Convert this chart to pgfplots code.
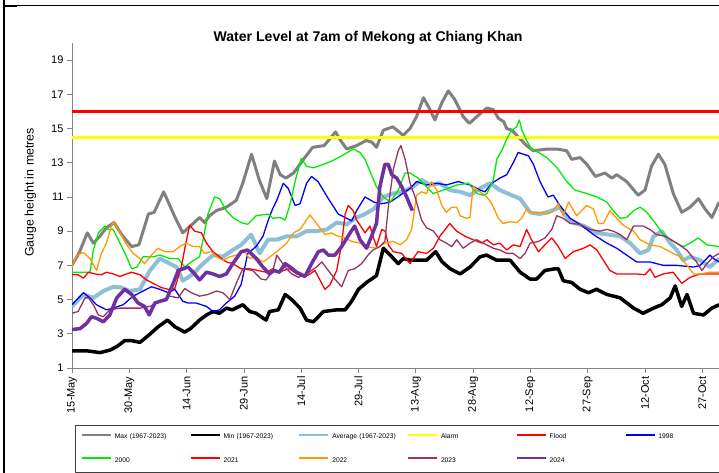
\documentclass[border=0pt]{standalone}
\usepackage{fontspec}
\setmainfont{Liberation Sans}
\usepackage{pgfplots}
\pgfplotsset{compat=1.18}

\definecolor{maxc}{RGB}{128,128,128}
\definecolor{minc}{RGB}{0,0,0}
\definecolor{avgc}{RGB}{141,191,214}
\definecolor{alarmc}{RGB}{255,255,0}
\definecolor{floodc}{RGB}{255,0,0}
\definecolor{c1998}{RGB}{0,0,255}
\definecolor{c2000}{RGB}{0,235,0}
\definecolor{c2021}{RGB}{255,0,0}
\definecolor{c2022}{RGB}{255,153,0}
\definecolor{c2023}{RGB}{153,51,102}
\definecolor{c2024}{RGB}{112,48,160}
\definecolor{axisgray}{RGB}{134,134,134}

\begin{document}
\begin{tikzpicture}
\useasboundingbox (0,0) rectangle (719pt,473pt);
% outer frame pieces
\draw[line width=2pt] (4pt,0pt) -- (4pt,473pt);
\draw[line width=1pt] (4pt,467pt) -- (719pt,467pt);
\draw[line width=2.2pt] (4pt,467pt) -- (17pt,467pt);

\node[font=\fontsize{14.1}{16}\selectfont\bfseries] at (368pt,435pt) {Water Level at 7am of Mekong at Chiang Khan};
\node[rotate=90, font=\fontsize{12.4}{14}\selectfont] at (30.5pt,280.5pt) {Gauge height in metres};

\begin{axis}[
    at={(72pt,105pt)}, anchor=south west,
    scale only axis, width=647.5pt, height=325pt,
    xmin=0, xmax=169.5, ymin=1, ymax=20,
    axis x line*=bottom, axis y line*=left,
    axis line style={draw=axisgray, line width=0.8pt, -},
    tick align=outside, major tick length=5pt,
    tick style={draw=axisgray, line width=0.8pt},
    ytick={1,3,...,19},
    xtick={0,15,...,165},
    xticklabels={15-May,30-May,14-Jun,29-Jun,14-Jul,29-Jul,13-Aug,28-Aug,12-Sep,27-Sep,12-Oct,27-Oct},
    tick label style={font=\fontsize{11}{13}\selectfont},
    xticklabel style={rotate=90, anchor=east},
    /pgf/number format/assume math mode=true,
    line join=round,
    legend columns=6,
    legend cell align=left,
    legend image code/.code={\draw[#1, line width=1.8pt] (0pt,2.2pt) -- (29pt,2.2pt);},
    legend style={at={(0.00417,-0.1745)}, anchor=north west,
        draw=black!75, line width=0.8pt, inner xsep=6pt, inner ysep=8.6pt,
        font=\fontsize{6.7}{8}\selectfont, row sep=16.8pt,
        nodes={text width=64pt, inner xsep=0pt, inner ysep=0pt, text height=5pt, text depth=1.5pt},
        /tikz/every odd column/.append style={column sep=3pt},
        /tikz/every even column/.append style={column sep=10.9pt}},
]
% Max (1967-2023)
\addplot[maxc, line width=3pt] coordinates {
(0,7.0) (2,7.8) (4,8.9) (5.6,8.3) (7.3,8.7) (9,9.2) (11,9.5) (13,8.8) (15.6,8.1) (17.5,8.2) (20,10.0) (21.5,10.1) (24,11.3) (27,9.8) (29,8.9) (31,9.3) (33.4,9.8) (34.7,9.5) (36,9.9) (37.8,10.2) (40.4,10.4) (43,10.8) (44.7,11.8) (47,13.5) (49,12.0) (51,10.9) (53,13.1) (54.5,12.3) (56,12.1) (58,12.4) (60.6,13.2) (63,13.9) (66,14.0) (69,14.8) (70,14.4) (71.9,13.8) (74.5,14.0) (77,14.3) (78.5,14.2) (79.7,13.9) (81.5,14.9) (84,15.1) (86.7,14.6) (88.5,15.0) (90.2,15.7) (92,16.8) (93.5,16.2) (95,15.5) (96.8,16.5) (98.5,17.2) (100.2,16.7) (102.4,15.7) (104,15.3) (106,15.7) (108.6,16.2) (110.3,16.1) (111.6,15.6) (113,15.4) (113.8,15.0) (115.1,14.9) (117.3,14.4) (119,14.0) (120.8,13.7) (124.3,13.8) (127,13.8) (129.5,13.7) (130.8,13.2) (133,13.3) (134.8,12.9) (137,12.2) (139.5,12.4) (141.3,12.1) (142.6,12.3) (145.2,11.9) (148.2,11.1) (150,11.4) (151.7,12.8) (153.5,13.5) (155.2,12.9) (157.4,11.2) (159.6,10.1) (161.8,10.4) (164,10.9) (165.7,10.3) (167.5,9.8) (169.4,10.7)
};
% Min (1967-2023)
\addplot[minc, line width=3.5pt] coordinates {
(0,2.0) (4,2.0) (7.3,1.9) (10,2.05) (11.7,2.25) (13.8,2.6) (15.6,2.6) (17.8,2.5) (20,2.9) (22.5,3.4) (25,3.8) (27,3.4) (29.5,3.1) (31,3.3) (33.4,3.8) (35.2,4.1) (36.9,4.3) (38.6,4.2) (40.4,4.5) (42,4.4) (44.7,4.7) (46.5,4.3) (48.2,4.2) (50.8,3.8) (51.7,4.3) (54,4.4) (55.8,5.3) (57.5,5.0) (59.7,4.5) (61.4,3.8) (63.2,3.7) (65.8,4.3) (69.3,4.4) (71.5,4.4) (73.2,4.9) (75,5.6) (77.1,6.0) (79.7,6.4) (81.5,8.0) (83.3,7.6) (85.4,7.1) (86.7,7.4) (88.5,7.3) (90.6,7.3) (92.8,7.3) (95.2,7.8) (96.9,7.2) (99,6.8) (101.6,6.5) (104.2,6.9) (106.8,7.5) (108.5,7.6) (111.2,7.3) (114.7,7.3) (117.3,6.6) (119.9,6.2) (121.6,6.2) (123.8,6.7) (126.4,6.8) (127.3,6.8) (128.6,6.1) (130.8,6.0) (133,5.6) (135.2,5.4) (137.3,5.6) (140,5.3) (143.5,5.1) (147,4.5) (149.5,4.2) (152.2,4.5) (154.4,4.7) (156.6,5.1) (157.9,5.8) (159.6,4.6) (161,5.3) (162.7,4.2) (165.3,4.1) (167.5,4.5) (169.4,4.7)
};
% Average (1967-2023)
\addplot[avgc, line width=4pt] coordinates {
(0,4.6) (3,5.3) (5.6,5.1) (8.2,5.5) (10.8,5.75) (13,5.7) (15.1,5.5) (17.8,5.6) (20.4,6.7) (23,7.4) (25.6,7.1) (27.4,6.9) (29,6.1) (31.7,6.5) (34.3,7.1) (36.9,7.6) (39.5,7.5) (42.1,7.9) (44.3,8.2) (46.9,8.8) (49.1,7.7) (51.3,8.5) (53.6,8.5) (56.2,8.7) (58.8,8.7) (61.4,9.0) (64,9.0) (66.7,9.1) (69.3,9.5) (71.9,9.4) (74.5,9.8) (76.7,10.0) (79,10.3) (81.5,11.0) (84.1,11.2) (86.7,11.3) (89.3,11.6) (91.5,12.0) (93.7,11.7) (96.3,11.8) (98.9,11.4) (101.6,11.3) (104.2,11.1) (106.8,11.5) (109.4,11.8) (112,11.4) (115.1,11.1) (117.3,10.9) (119.9,10.1) (122.5,10.0) (125.6,10.2) (127.7,10.4) (130.4,9.55) (134,9.3) (137.4,8.9) (140.4,8.8) (143.5,8.7) (146.1,8.3) (148.7,7.7) (150.9,7.9) (152.2,8.7) (154.4,9.0) (156.6,8.3) (158.3,7.9) (160,7.3) (161.8,7.5) (164.4,7.3) (167,6.9) (169.4,7.4)
};
% Alarm
\addplot[alarmc, line width=3pt] coordinates {(0,14.5) (169.5,14.5)};
% Flood
\addplot[floodc, line width=3pt] coordinates {(0,16) (169.5,16)};
% 1998
\addplot[c1998, line width=1.3pt] coordinates {
(0,4.7) (3,5.4) (4.7,5.1) (6.4,4.7) (9,4.4) (10.8,4.5) (13.4,4.7) (16,5.2) (18.6,5.5) (20.8,5.75) (23,5.6) (25.2,5.4) (26.9,5.6) (29,4.9) (30.4,4.8) (32.5,4.8) (35.2,4.6) (36.9,4.3) (38.6,4.4) (40.4,4.8) (42.6,5.2) (44.3,5.9) (46,7.7) (48.2,8.1) (50,8.7) (51.3,9.6) (52.5,10.3) (53.6,10.8) (55.3,11.8) (56.6,11.5) (58.4,10.5) (59.7,10.6) (61.4,11.8) (62.7,12.2) (64.4,11.9) (67.1,10.9) (69.7,10.0) (71.5,9.8) (73.2,9.6) (74.5,10.2) (76.7,11.0) (79,10.7) (81,10.6) (83.3,10.7) (85.9,11.1) (88.5,11.5) (90.2,11.9) (92.8,11.7) (95.5,11.8) (98,11.7) (101.1,11.9) (104.2,11.7) (106.8,11.4) (108.1,11.3) (109.9,11.8) (112,12.1) (113.8,12.3) (115.5,13.0) (116.8,13.6) (118.1,13.5) (119.5,13.4) (120.8,12.9) (122.5,11.9) (124.6,11.0) (126,11.1) (127.7,10.5) (130.4,9.75) (133,9.4) (136.5,8.8) (140,8.3) (142.6,8.0) (145.2,7.6) (147.8,7.2) (151.3,7.2) (154.8,7.0) (158.3,7.0) (162.7,6.9) (164.4,7.0) (167,7.6) (167.9,7.4) (169.4,7.2)
};
% 2000
\addplot[c2000, line width=1.3pt] coordinates {
(0,6.6) (2.1,6.6) (4.7,6.6) (5.6,7.9) (6.9,8.9) (8.6,9.3) (9.5,9.1) (10.8,9.1) (13,8.1) (14.3,7.5) (15.6,6.8) (17,6.9) (18.6,7.5) (21.2,7.5) (23,7.6) (25.6,7.4) (27.8,7.4) (29.5,6.9) (31.2,7.2) (33.4,7.5) (34.3,8.5) (35.6,10.0) (37.3,11.0) (38.6,10.9) (40.4,10.2) (42.1,9.8) (44.3,9.5) (46,9.4) (48.2,9.9) (51.3,10.0) (52.6,9.75) (54.4,9.8) (55.8,9.65) (57,10.5) (58.5,12.0) (60,13.25) (61.4,12.8) (63.2,12.7) (65.8,12.9) (68,13.1) (70.6,13.4) (73.6,13.8) (75.4,13.6) (76.7,13.2) (78,12.5) (79.7,11.6) (81.5,11.0) (83.3,10.7) (85.4,11.4) (87.2,12.4) (88.5,12.4) (90.6,12.1) (92.8,11.6) (94.5,11.2) (97.2,11.4) (100.7,11.7) (103.8,11.8) (106,11.2) (107.7,11.1) (108.6,11.2) (110.3,12.0) (111.2,13.2) (112.5,13.7) (113.8,14.4) (115.1,14.9) (116.4,15.1) (117.1,15.5) (117.8,14.9) (119,14.3) (120.3,13.8) (122.1,13.6) (124.3,13.3) (127,12.7) (129.5,11.9) (131.7,11.4) (134.7,11.2) (137.4,11.0) (140,10.7) (141.3,10.3) (143.5,9.75) (145.2,9.8) (147,10.2) (148.7,10.4) (150.5,10.1) (152.6,9.5) (154.8,8.8) (157.4,8.4) (160,8.1) (161.8,8.3) (163.9,8.6) (166.2,8.2) (169.4,8.1)
};
% 2021
\addplot[c2021, line width=1.3pt] coordinates {
(0,6.45) (1.6,6.45) (3,6.25) (4.3,6.6) (6,6.5) (7.7,6.45) (9,6.6) (10.8,6.5) (12.5,6.35) (14.3,6.5) (15.6,6.6) (17.8,6.45) (19.5,6.15) (21.2,5.95) (23.4,5.7) (25.2,5.6) (26.9,5.65) (28.6,6.9) (29.8,8.3) (30.8,9.35) (32.1,9.0) (33.9,8.9) (35.2,8.3) (36.9,7.8) (38.6,7.5) (40.4,7.2) (42.1,7.1) (44.3,6.8) (46.5,6.8) (48.7,6.7) (50.8,6.6) (52.6,6.8) (54.4,6.6) (55.3,6.7) (57,6.8) (58.8,6.5) (60.6,6.35) (62,6.45) (63.6,6.7) (64.9,6.15) (66.2,5.6) (67.5,5.85) (69.3,6.7) (70.6,8.3) (71.5,10.0) (72.3,10.5) (73.6,10.2) (74.5,9.65) (75.4,9.35) (76.7,8.9) (78,9.3) (78.8,8.7) (79.7,8.1) (81.1,9.1) (82,9.0) (82.8,8.2) (84.1,7.8) (86.3,7.7) (88.5,7.1) (89.3,7.4) (90.6,7.8) (92.8,7.7) (94.6,8.0) (96.3,8.7) (98.9,9.45) (100.7,9.0) (102.9,8.7) (105,8.5) (107.3,8.3) (108.6,8.5) (110.3,8.2) (112,8.3) (113.8,7.9) (115.5,8.2) (117.3,8.1) (119,9.1) (120.3,8.5) (122.1,7.8) (123.8,8.2) (125.6,8.6) (127.3,8.1) (129.1,7.4) (131.2,7.8) (133.9,8.0) (135.6,8.2) (137.4,7.9) (139.1,7.3) (140.8,6.7) (142.6,6.5) (145.2,6.5) (147.8,6.5) (150,6.45) (151.3,6.8) (152.6,6.3) (154.8,6.5) (157.4,6.6) (159.6,5.95) (161.8,6.3) (164.4,6.5) (169.4,6.5)
};
% 2022
\addplot[c2022, line width=1.3pt] coordinates {
(0,6.9) (1.2,7.6) (3,7.75) (4.7,7.4) (6.4,6.7) (7.7,7.7) (9,8.3) (10.4,9.35) (10.8,9.55) (12.1,9.1) (14.3,8.2) (16,7.7) (17.8,7.4) (19,7.1) (20.8,7.6) (22.5,8.0) (24.3,7.8) (26.5,7.8) (28.2,8.1) (29.9,8.3) (31.7,8.1) (33.4,8.1) (34.7,7.7) (36.5,7.8) (37.8,7.5) (39.5,7.3) (41.3,7.5) (43,7.6) (45.2,7.8) (46.5,7.4) (48.2,7.5) (50,7.2) (51.8,7.5) (53.6,7.8) (56.2,8.3) (58,8.9) (59.7,9.1) (62.3,9.95) (64,9.45) (66.2,8.8) (67.9,8.9) (69.7,8.7) (71.5,8.6) (73.2,8.4) (75.4,8.3) (77.1,8.1) (79.7,8.0) (81.9,8.3) (84.1,8.4) (85.9,8.2) (87.6,8.5) (88.9,9.1) (90.2,11.1) (91.5,11.3) (92.8,11.2) (94.1,11.9) (95.5,11.4) (96.8,10.5) (98,10.1) (99.4,10.4) (100.7,10.4) (101.6,9.9) (103.3,9.75) (104.2,9.8) (105,11.6) (106.8,11.3) (108.6,11.0) (109.9,10.6) (111.6,9.75) (112.9,9.45) (114.7,9.55) (116.4,9.5) (117.7,9.75) (119,10.3) (120.8,10.0) (122.1,10.1) (124.3,10.0) (125.6,10.1) (127.3,10.6) (128.6,9.9) (130,10.7) (132.1,9.9) (134.7,10.5) (136.5,10.3) (137.8,9.45) (139.1,9.45) (140.8,10.2) (142.6,9.75) (144.3,9.35) (147,9.0) (148.7,8.5) (151.3,8.2) (153.9,8.1) (156.5,7.8) (159.2,7.5) (161,7.0) (162.7,6.5) (164.4,6.5) (167,6.6) (169.4,6.6)
};
% 2023
\addplot[c2023, line width=1.3pt] coordinates {
(0,4.2) (1.6,4.3) (3.4,5.1) (4.3,5.1) (5.6,4.7) (6.9,4.1) (8.2,4.0) (9.9,4.4) (12.5,4.5) (15.1,4.5) (17.8,4.5) (20.4,4.6) (23,4.9) (25.6,5.2) (27.8,5.1) (29.5,5.65) (31.2,5.4) (33.4,5.2) (35.6,5.3) (37.8,5.5) (39.5,5.4) (41.3,5.0) (43,5.95) (44.7,6.8) (47.3,6.7) (49.5,6.2) (50.8,6.15) (52.6,6.7) (53.6,7.6) (55.8,6.9) (57.5,6.5) (59.3,6.3) (61.4,6.5) (64,6.9) (65.4,7.2) (67.1,6.7) (68.8,6.2) (70.6,5.75) (72.3,6.7) (74,6.8) (75.8,7.1) (77.5,7.6) (78.8,7.9) (80.6,8.1) (81.9,8.4) (82.8,10.4) (84.1,12.6) (85.4,13.7) (86.1,14.0) (87.2,13.2) (88.5,11.8) (89.8,11.0) (91.5,9.65) (92.8,9.2) (94.6,9.0) (96.3,8.5) (98,8.3) (99.4,8.1) (100.7,8.5) (102.4,8.0) (104.2,8.3) (105.9,8.5) (107.7,8.3) (108.5,8.2) (110.3,8.0) (112,7.9) (113.8,7.7) (115.5,7.7) (117.3,7.4) (118.6,7.7) (119.9,8.3) (122.1,8.4) (123.8,8.6) (125.6,9.1) (126.9,9.9) (128.6,9.75) (130.4,9.45) (133,9.4) (135.6,9.1) (138.2,9.0) (140,9.1) (141.7,9.0) (143.5,8.8) (145.2,8.5) (147,9.3) (149.5,9.3) (151.3,9.1) (153,8.8) (155.3,8.7) (158.3,8.3) (160.9,7.9) (163.5,7.2) (164.9,6.7) (166.2,7.1) (167.9,7.5) (169.4,7.7)
};
% 2024
\addplot[c2024, line width=3.5pt] coordinates {
(0,3.25) (2.1,3.3) (3.8,3.6) (5.1,4.0) (6.5,3.9) (8.2,3.7) (9.9,4.1) (11.7,5.1) (13.8,5.6) (15.6,5.3) (17.3,4.8) (19,4.6) (20.2,4.1) (21.7,4.8) (23,4.9) (24.7,5.0) (26.5,5.95) (27.8,6.7) (30.4,6.9) (32.1,6.5) (33.4,6.15) (35.2,6.6) (36.9,6.5) (38.6,6.35) (40.4,6.5) (42.1,7.1) (44.3,7.8) (46,7.9) (48.2,7.4) (50,6.9) (51.7,6.5) (52.9,6.7) (54.3,6.6) (55.8,7.1) (57.1,6.9) (58.8,6.6) (61,6.35) (62.7,7.1) (64.5,7.8) (65.8,7.9) (67.1,7.6) (68.8,7.6) (70.6,8.1) (72.8,8.9) (74,9.3) (75.4,8.5) (77.1,8.0) (78.4,8.7) (79.7,9.45) (80.6,11.6) (81.9,12.9) (82.8,12.9) (83.7,12.3) (85,12.1) (86.3,11.6) (87.6,11.0) (89.1,10.2)
};
\legend{Max (1967-2023), Min (1967-2023), Average (1967-2023), Alarm, Flood, 1998, 2000, 2021, 2022, 2023, 2024}
\end{axis}
\end{tikzpicture}
\end{document}
